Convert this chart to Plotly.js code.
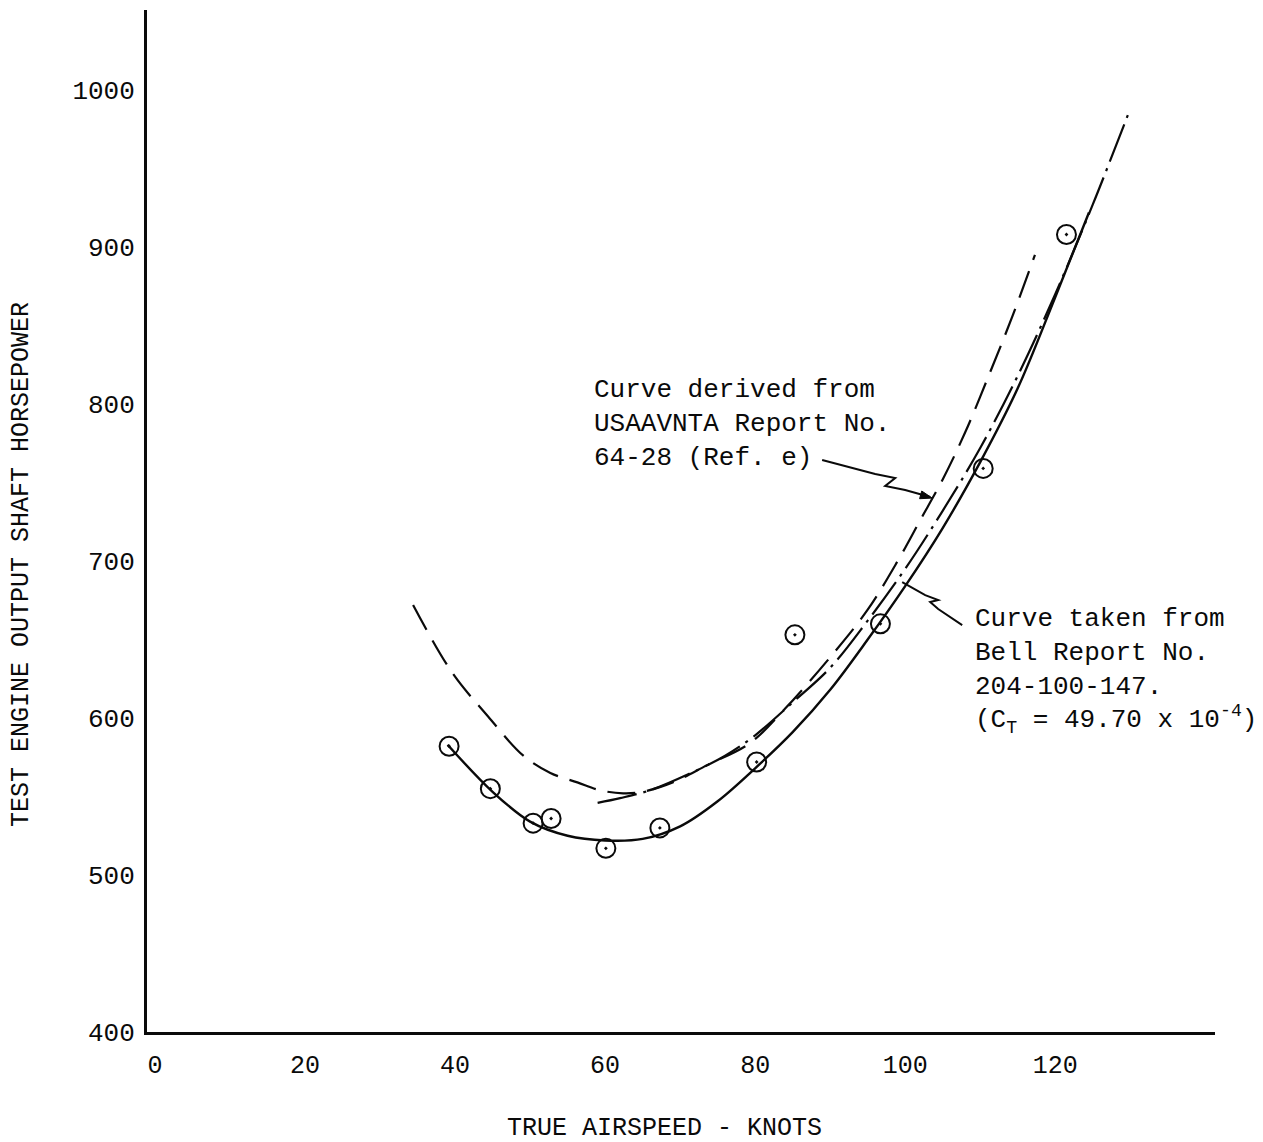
<!DOCTYPE html>
<html>
<head>
<meta charset="utf-8">
<script src="https://cdn.plot.ly/plotly-3.0.1.min.js"></script>
<style>
  html, body { margin: 0; padding: 0; background: #ffffff; }
  #chart { width: 1263px; height: 1142px; }
</style>
</head>
<body>
<div id="chart"></div>
<script>
// Test data points (true airspeed, knots / engine output SHP)
const pointSpeed = [39.2, 44.7, 50.4, 52.8, 60.1, 67.3, 80.2, 85.3, 96.7, 110.4, 121.5];
const pointPower = [582, 555, 533, 536, 517, 530, 572, 653, 660, 759, 908];

// Solid curve (faired through test data)
const solidSpeed = [39, 45, 50, 55, 60, 65, 70, 75, 80, 85, 90, 95, 100, 105, 110, 115, 120, 124.5];
const solidPower = [583, 553, 534, 525, 522, 523, 531, 547, 568, 591, 618, 650, 684, 721, 763, 810, 868, 922];

// Long-dashed curve
const dashSpeed = [34.4, 39.6, 44.4, 49.1, 52.7, 56.3, 59.3, 62.4, 65, 69, 73.6, 79.3, 84, 90.4, 95, 99, 102, 105, 108, 111.3, 114.3, 117.3];
const dashPower = [672, 629, 601, 576, 565, 559, 554, 552, 553, 559, 570, 584, 606, 641, 669, 700, 726, 752, 782, 820, 856, 895];

// Dash-dot curve
const dashDotSpeed = [59, 62, 66, 71, 76, 80, 85, 90, 95, 100, 105, 110, 115, 120, 125, 130];
const dashDotPower = [546, 549, 554, 564, 576, 589, 610, 632, 662, 695, 732, 772, 818, 870, 927, 988];

// Axis ticks
const xTicks = [0, 20, 40, 60, 80, 100, 120];
const yTicks = [400, 500, 600, 700, 800, 900, 1000];

const mono = "Liberation Mono, Courier New, monospace";
const ink = "#0a0a0a";

const traces = [
  {
    x: dashSpeed, y: dashPower, mode: "lines", type: "scatter",
    line: { color: ink, width: 2.2, dash: "28px,12px", shape: "spline", smoothing: 1 },
    hoverinfo: "skip"
  },
  {
    x: dashDotSpeed, y: dashDotPower, mode: "lines", type: "scatter",
    line: { color: ink, width: 2.2, dash: "40px,7px,3px,7px", shape: "spline", smoothing: 1 },
    hoverinfo: "skip"
  },
  {
    x: solidSpeed, y: solidPower, mode: "lines", type: "scatter",
    line: { color: ink, width: 2.4, shape: "spline", smoothing: 1 },
    hoverinfo: "skip"
  },
  {
    x: pointSpeed, y: pointPower, mode: "markers", type: "scatter",
    marker: { symbol: "circle-open-dot", size: 19, color: ink, line: { color: ink, width: 2 } }
  }
];

const layout = {
  width: 1263, height: 1142,
  paper_bgcolor: "#ffffff", plot_bgcolor: "#ffffff",
  showlegend: false,
  margin: { l: 147, r: 48, t: 10, b: 110 },
  font: { family: mono, color: ink },
  xaxis: {
    range: [-1.07, 141.3],
    tickvals: xTicks,
    ticktext: xTicks.map(String),
    showgrid: false, zeroline: false,
    showline: true, linecolor: ink, linewidth: 3,
    ticks: "", ticklabelstandoff: 8,
    tickfont: { family: mono, size: 25, color: ink }
  },
  yaxis: {
    range: [400, 1051],
    tickvals: yTicks,
    ticktext: yTicks.map(String),
    showgrid: false, zeroline: false,
    showline: true, linecolor: ink, linewidth: 3,
    ticks: "", ticklabelstandoff: 4,
    tickfont: { family: mono, size: 26, color: ink }
  },
  shapes: [
    {
      type: "path", xref: "x", yref: "y",
      path: "M 88.93,764.3 L 96.0,755.4 L 98.67,752.9 L 97.33,747.8 L 100.0,745.2 L 103.33,740.8",
      line: { color: ink, width: 2 }
    },
    {
      type: "path", xref: "x", yref: "y",
      path: "M 103.6,740.1 L 101.92,739.7 L 102.21,744.6 Z",
      line: { color: ink, width: 1 }, fillcolor: ink
    },
    {
      type: "path", xref: "x", yref: "y",
      path: "M 107.6,659.2 L 104.4,669.4 L 103.33,673.9 L 104.4,675.2 L 102.67,678.3 L 99.6,686.6",
      line: { color: ink, width: 2 }
    }
  ],
  annotations: [
    {
      x: -0.117, y: 0.457, xref: "paper", yref: "paper", xanchor: "center", yanchor: "middle",
      text: "TEST ENGINE OUTPUT SHAFT HORSEPOWER", textangle: -90,
      showarrow: false, font: { family: mono, size: 25, color: ink }
    },
    {
      x: 0.485, y: 1128, xref: "paper", yref: "paper", xanchor: "center", yanchor: "middle",
      text: "TRUE AIRSPEED - KNOTS",
      showarrow: false, font: { family: mono, size: 25, color: ink }
    },
    {
      x: 58.3, y: 787, xref: "x", yref: "y", xanchor: "left", yanchor: "middle", align: "left",
      text: "Curve derived from<br>USAAVNTA Report No.<br>64-28 (Ref. e)",
      showarrow: false, font: { family: mono, size: 26, color: ink }
    },
    {
      x: 109.1, y: 630, xref: "x", yref: "y", xanchor: "left", yanchor: "middle", align: "left",
      text: "Curve taken from<br>Bell Report No.<br>204-100-147.<br>(C<sub>T</sub> = 49.70 x 10<sup>-4</sup>)",
      showarrow: false, font: { family: mono, size: 26, color: ink }
    }
  ]
};
// x-axis title sits in the bottom margin: convert pixel row 1128 to paper fraction
layout.annotations[1].y = (1032 - 1128) / 1022;

Plotly.newPlot("chart", traces, layout, { staticPlot: true, displayModeBar: false });
</script>
</body>
</html>
